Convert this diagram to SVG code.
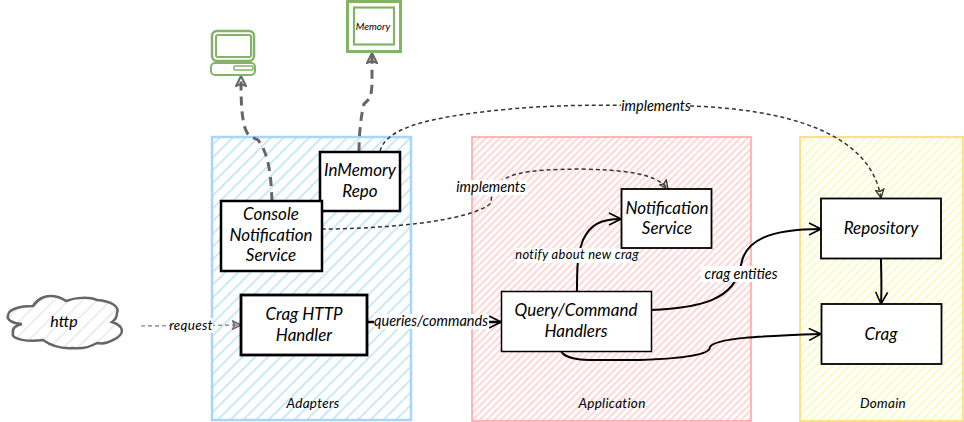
<svg xmlns="http://www.w3.org/2000/svg" width="964" height="422" viewBox="0 0 964 422">
<style>
text{font-family:"Lato","Noto Sans",sans-serif;font-style:italic;fill:#000;text-anchor:middle}
.t{font-size:17px}
.l{font-size:14.5px}
.s{font-size:13.5px;letter-spacing:.3px}
.box{fill:#fff;stroke:#000}
.bg{fill:#fff}
.c{fill:none;stroke:#000;stroke-width:2}
.d{fill:none;stroke:#333;stroke-width:1.5;stroke-dasharray:4 3}
.g{fill:none;stroke:#666;stroke-width:3;stroke-dasharray:9 6}
.gn{fill:none;stroke:#82b366}
</style>
<defs>
<pattern id="hb" width="9" height="9" patternUnits="userSpaceOnUse" patternTransform="rotate(45)"><rect width="9" height="9" fill="#fff"/><rect width="1.6" height="9" fill="#bce6f7"/></pattern>
<pattern id="hp" width="5" height="5" patternUnits="userSpaceOnUse" patternTransform="rotate(45)"><rect width="5" height="5" fill="#fff"/><rect width="2.2" height="5" fill="#ffd9d9"/></pattern>
<pattern id="hy" width="6" height="6" patternUnits="userSpaceOnUse" patternTransform="rotate(45)"><rect width="6" height="6" fill="#fff"/><rect width="2.2" height="6" fill="#f8fcc6"/></pattern>
<pattern id="hg" width="10" height="10" patternUnits="userSpaceOnUse" patternTransform="rotate(45)"><rect width="10" height="10" fill="#fff"/><rect width="1.5" height="10" fill="#e8e8e8"/></pattern>
<pattern id="hl" width="10" height="10" patternUnits="userSpaceOnUse" patternTransform="rotate(45)"><rect width="10" height="10" fill="#fff"/><rect width="2" height="10" fill="#b5d1a3"/></pattern>
<marker id="open" viewBox="0 0 14 14" refX="13" refY="7" markerWidth="14" markerHeight="14" markerUnits="userSpaceOnUse" orient="auto"><path d="M1 1 L13 7 L1 13" fill="none" stroke="#000" stroke-width="1.6"/></marker>
<marker id="dk" viewBox="0 0 12 12" refX="11" refY="6" markerWidth="10" markerHeight="10" markerUnits="userSpaceOnUse" orient="auto"><path d="M1 1 L11 6 L1 11 L3 6 Z" fill="none" stroke="#333" stroke-width="1.6"/></marker>
<marker id="gr" viewBox="0 0 12 12" refX="11" refY="6" markerWidth="12" markerHeight="12" markerUnits="userSpaceOnUse" orient="auto"><path d="M1 1 L11 6 L1 11 L3 6 Z" fill="none" stroke="#666" stroke-width="2"/></marker>
<marker id="gs" viewBox="0 0 12 12" refX="11" refY="6" markerWidth="10" markerHeight="10" markerUnits="userSpaceOnUse" orient="auto"><path d="M1 1 L11 6 L1 11 L3 6 Z" fill="#aaa" stroke="#666" stroke-width="1.6"/></marker>
</defs>

<g id="adapters"><rect x="212" y="137" width="199" height="283" fill="url(#hb)" stroke="#a9d4fb" stroke-width="2.5"/><text class="s" x="313" y="408">Adapters</text></g>
<g id="application"><rect x="472" y="137" width="279" height="284" fill="url(#hp)" stroke="#ffa6a6" stroke-width="1.6"/><text class="s" x="612" y="408">Application</text></g>
<g id="domain"><rect x="800" y="137" width="163" height="284" fill="url(#hy)" stroke="#ffdc7a" stroke-width="1.8"/><text class="s" x="883" y="408">Domain</text></g>

<g id="connectors">
<path class="g" d="M272 201 C271 180 270 155 258 140 C248 135 248 137 244 125 C241 110 241 95 241 76" marker-end="url(#gr)"/>
<path class="g" d="M359 151 C359 135 361 115 364 104 C371 98 371 96 372 85 L372 53" marker-end="url(#gr)"/>
<path class="d" d="M380 151 C386 130 420 118 500 110 C560 104 600 105 690 106 C780 109 870 130 881 198" marker-end="url(#dk)"/>
<path class="d" d="M322 229 C380 229 470 222 491 203 C492 170 530 170 580 169 C620 170 655 172 668 189" marker-end="url(#dk)"/>
<path class="d" style="stroke:#777;stroke-width:1.2" d="M141 326 L241 325" marker-end="url(#gs)"/>
<path class="c" style="stroke-width:2.5" d="M367 322 L501 322" marker-end="url(#open)"/>
<path class="c" d="M577 291 C577 270 577 255 583 240 C590 225 600 219 621 219" marker-end="url(#open)"/>
<path class="c" d="M651 310 C700 308 735 300 741 265 C745 240 770 229 821 229" marker-end="url(#open)"/>
<path class="c" d="M561 351 C566 362 590 360 640 360 C700 358 710 352 710 347 C715 338 760 336 821 334" marker-end="url(#open)"/>
<path class="c" d="M881 259 C881 270 882 285 881 304" marker-end="url(#open)"/>
</g>

<g id="labels">
<rect class="bg" x="621" y="99" width="69" height="15"/><text class="l" x="656" y="111">implements</text>
<rect class="bg" x="457" y="180" width="70" height="15"/><text class="l" x="491" y="192">implements</text>
<rect class="bg" x="515" y="248" width="123" height="15"/><text class="s" x="577" y="259" style="font-size:13px">notify about new crag</text>
<rect class="bg" x="701" y="266" width="81" height="16"/><text class="l" x="741" y="279">crag entities</text>
<rect class="bg" x="170" y="318" width="43" height="15"/><text class="s" x="191" y="330">request</text>
<rect class="bg" x="374" y="314" width="115" height="15"/><text class="l" x="431" y="326" style="font-size:14.5px">queries/commands</text>
</g>

<g id="laptop"><rect x="212" y="31" width="42" height="30" rx="5" fill="#fff" class="gn" stroke-width="2.5"/><rect x="216" y="35" width="35" height="22" rx="2" fill="#fff" class="gn" stroke-width="2"/><rect x="211" y="63" width="44" height="12" rx="4" fill="url(#hl)" class="gn" stroke-width="2"/><rect x="234" y="66" width="19" height="4" rx="1" class="gn" stroke-width="1.5"/></g>
<g id="memory"><rect x="347.500" y="1.500" width="53" height="50" fill="#fff" class="gn" stroke-width="3"/><rect x="354" y="7.500" width="40" height="37" fill="#fff" class="gn" stroke-width="2.200"/><text x="373" y="30" style="font-size:10px">Memory</text></g>
<g id="cloud"><path d="M33 306 C38 298 46 296 50 296 C58 296 62 298 66 301 C76 297 90 297 97 300 C110 301 120 306 117 313 C117 318 115 320 112 322 C124 326 126 334 113 340 C108 343 102 344 97 343 C88 348 80 349 73 348 C60 349 50 345 43 340 C30 342 10 340 13 333 C12 329 14 326 22 324 C14 324 6 320 8 315 C9 309 20 306 33 306 Z" fill="url(#hg)" stroke="#666" stroke-width="2.500"/><text class="t" x="64" y="327" style="font-size:16px">http</text></g>

<g id="inmemory"><rect class="box" x="320" y="152" width="80" height="59" stroke-width="2.500"/><text class="t" x="360" y="176">InMemory</text><text class="t" x="360" y="197">Repo</text></g>
<g id="console"><rect class="box" x="221" y="201" width="101" height="70" stroke-width="2.500"/><text class="t" x="271" y="220">Console</text><text class="t" x="271" y="241">Notification</text><text class="t" x="271" y="261">Service</text></g>
<g id="crag-http"><rect class="box" x="241" y="295" width="126" height="60" stroke-width="2.800"/><text class="t" x="304" y="320">Crag HTTP</text><text class="t" x="304" y="341">Handler</text></g>
<g id="handlers"><rect class="box" x="501.500" y="291.500" width="150" height="60" stroke-width="1.500"/><text class="t" x="576" y="316">Query/Command</text><text class="t" x="576" y="337">Handlers</text></g>
<g id="notification"><rect class="box" x="621.500" y="189" width="90" height="59" stroke-width="1.800"/><text class="t" x="667" y="214">Notification</text><text class="t" x="667" y="234">Service</text></g>
<g id="repository"><rect class="box" x="821" y="198.500" width="120" height="60" stroke-width="1.800"/><text class="t" x="881" y="234">Repository</text></g>
<g id="crag"><rect class="box" x="821.500" y="304" width="120" height="60" stroke-width="1.800"/><text class="t" x="881" y="340">Crag</text></g>
</svg>
